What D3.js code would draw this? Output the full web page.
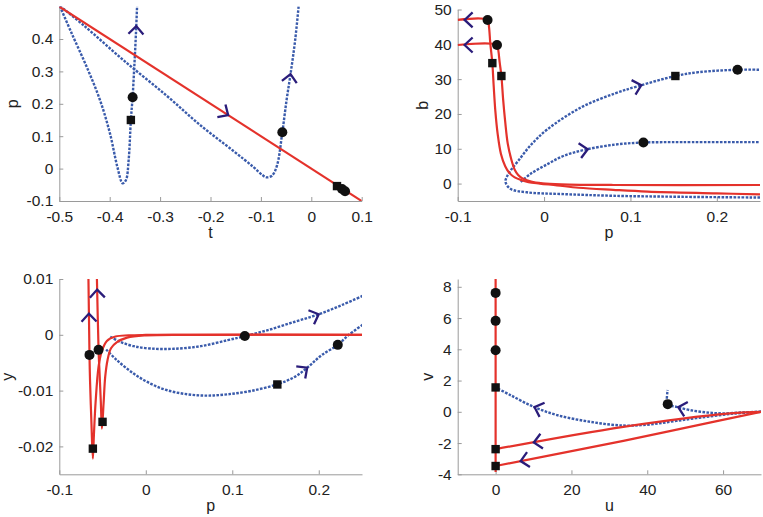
<!DOCTYPE html>
<html>
<head>
<meta charset="utf-8">
<script src="https://cdn.jsdelivr.net/npm/d3@7"></script>
<style>
  body { margin: 0; background: #fff; }
  text { font-family: "Liberation Sans", Arial, Helvetica, sans-serif; }
</style>
</head>
<body>
<svg id="chart" width="763" height="517"></svg>
<script>
// ---- panel 1: t vs p ----
var tpRed = [[-0.5, 0.5], [0.1, -0.1]];
var tpBlue1 = [[-0.499, 0.502], [-0.4755, 0.4175], [-0.4458, 0.3146], [-0.4193, 0.2117], [-0.3995, 0.1088],
  [-0.3849, 0.006], [-0.3743, -0.0455], [-0.3677, -0.0352], [-0.3624, 0.0265], [-0.358, 0.15],
  [-0.3545, 0.222], [-0.3512, 0.3146], [-0.3479, 0.4175], [-0.3452, 0.52]];
var tpBlue2 = [[-0.499, 0.502], [-0.45, 0.44], [-0.373, 0.335], [-0.287, 0.225], [-0.221, 0.135],
  [-0.155, 0.055], [-0.115, 0.005], [-0.097, -0.02], [-0.089, -0.027], [-0.078, -0.022],
  [-0.068, 0.01], [-0.0575, 0.112], [-0.049, 0.212], [-0.041, 0.294], [-0.032, 0.397], [-0.024, 0.52]];
var tpCircles = [[-0.3545, 0.22], [-0.0575, 0.112], [0.061, -0.063], [0.067, -0.07]];
var tpSquares = [[-0.358, 0.15], [0.051, -0.054]];
var tpArrows = [[-0.35, 0.44, "blue1"], [-0.042, 0.292, "blue2"], [-0.165, 0.165, "red"]];
var tpXTicks = [-0.5, -0.4, -0.3, -0.2, -0.1, 0, 0.1];
var tpYTicks = [-0.1, 0, 0.1, 0.2, 0.3, 0.4];

// ---- panel 2: p vs b ----
var pbRedA = [[0.25, -3.1], [0.2, -2.8], [0.12, -2.3], [0.08, -1.8], [0.04, -1.2], [0.015, -0.5],
  [-0.005, 0], [-0.018, 0.4], [-0.025, 0.9], [-0.034, 1.8], [-0.04, 3.0], [-0.045, 5.0], [-0.05, 8.6],
  [-0.0537, 14.2], [-0.0564, 20.8], [-0.0584, 28.3], [-0.0599, 34.6], [-0.0623, 40.4], [-0.0638, 45.1],
  [-0.0654, 47], [-0.1, 47]];
var pbRedB = [[0.25, -0.4], [0.08, -0.4], [0.02, -0.2], [-0.002, 0.1], [-0.015, 0.6], [-0.025, 1.5],
  [-0.03, 2.5], [-0.034, 4.0], [-0.038, 7.0], [-0.042, 11.4], [-0.0451, 18], [-0.0475, 24.5],
  [-0.0494, 30.9], [-0.0514, 34.8], [-0.0529, 38.1], [-0.0545, 39.8], [-0.1, 39.8]];
var pbBlueC = [[0.25, -4.0], [0.16, -3.8], [0.08, -3.5], [0.02, -3.0], [-0.02, -2.5], [-0.039, -1.5],
  [-0.0447, 0.5], [-0.043, 2.0], [-0.038, 4.0], [-0.03, 6.5], [-0.0156, 11], [0.004, 15.6],
  [0.043, 21.9], [0.082, 25.9], [0.109, 28], [0.152, 30.9], [0.179, 32], [0.224, 32.7], [0.25, 32.7]];
var pbBlueD = [[-0.027, 0.5], [-0.0156, 2.8], [0.004, 5.6], [0.023, 8.0], [0.047, 9.7], [0.082, 11.2],
  [0.115, 11.8], [0.16, 11.9], [0.25, 11.9]];
var pbCircles = [[-0.0654, 47], [-0.0545, 39.8], [0.224, 32.7], [0.115, 11.8]];
var pbSquares = [[-0.0599, 34.6], [-0.0494, 30.9], [0.152, 30.9]];
var pbArrows = [[-0.092, 47, "redA"], [-0.092, 39.8, "redB"], [0.113, 27.8, "blueC"], [0.0506, 9.8, "blueD"]];
var pbXTicks = [-0.1, 0, 0.1, 0.2];
var pbYTicks = [0, 10, 20, 30, 40, 50];

// ---- panel 3: p vs y ----
var pyRedA = [[0.25, 0], [0.05, 0], [0, -0.00003], [-0.02, -0.0001], [-0.035, -0.0003], [-0.045, -0.0011],
  [-0.051, -0.003], [-0.0546, -0.0057], [-0.058, -0.012], [-0.06, -0.018], [-0.0612, -0.0222],
  [-0.0628, -0.016], [-0.0645, -0.008], [-0.0651, -0.0036], [-0.0663, 0.01], [-0.0666, 0.012]];
var pyRedB = [[0.25, 0], [0.05, 0], [0, -0.0001], [-0.0216, -0.0005], [-0.0333, -0.0013], [-0.0402, -0.0024],
  [-0.0442, -0.0045], [-0.0469, -0.0075], [-0.0488, -0.0123], [-0.0507, -0.0168], [-0.052, -0.012],
  [-0.0537, -0.006], [-0.0546, -0.0027], [-0.0565, 0.01], [-0.0568, 0.012]];
var pyBlueE = [[-0.0411, -0.00036], [-0.0295, -0.00126], [-0.014, -0.00204], [0.0054, -0.00246],
  [0.0326, -0.00251], [0.0636, -0.00204], [0.0947, -0.00096], [0.1145, -0.00024], [0.1412, 0.00084],
  [0.1723, 0.00234], [0.1995, 0.00365], [0.2266, 0.00533], [0.253, 0.00713]];
var pyBlueF = [[-0.0458, -0.00263], [-0.0334, -0.00455], [-0.014, -0.00695], [0.0054, -0.00874],
  [0.0248, -0.00994], [0.0481, -0.01066], [0.0714, -0.0109], [0.0947, -0.01066], [0.1218, -0.01006],
  [0.1521, -0.00886], [0.1723, -0.00754], [0.1878, -0.00575], [0.2033, -0.00365], [0.222, -0.0018],
  [0.2344, -0.00006], [0.253, 0.00204]];
var pyCircles = [[-0.0651, -0.0036], [-0.0546, -0.0027], [0.1145, -0.0002], [0.222, -0.0018]];
var pySquares = [[-0.0612, -0.0204], [-0.05, -0.0156], [0.1521, -0.0089]];
var pyArrows = [[-0.0663, 0.0038, "redA"], [-0.0565, 0.0081, "redB"], [0.1996, 0.0038, "blueE"], [0.1857, -0.0057, "blueF"]];
var pyXTicks = [-0.1, 0, 0.1, 0.2];
var pyYTicks = [-0.02, -0.01, 0, 0.01];

// ---- panel 4: u vs v ----
var uvRedV = [[0, 8.5], [0, -3.85]];
var uvRed1 = [[70, 0], [61.8, -0.1], [33.7, -0.96], [0, -2.39]];
var uvRed2 = [[70, 0], [51.2, -0.96], [33.7, -1.86], [0, -3.47]];
var uvBlue1 = [[70, 0], [63.5, -0.1], [55.6, -0.32], [47.7, -0.58], [40.7, -0.81], [33.7, -0.88],
  [24.9, -0.64], [16.2, -0.21], [10, 0.32], [3.9, 1.07], [0, 1.56]];
var uvBlue2 = [[70, 0], [65.3, -0.04], [60, -0.1], [55.6, -0.04], [51.2, 0.11], [47.7, 0.32],
  [45.4, 0.49], [45.4, 1.4]];
var uvCircles = [[0, 7.61], [0, 5.82], [0, 3.94], [45.4, 0.49]];
var uvSquares = [[0, 1.56], [0, -2.39], [0, -3.47]];
var uvArrows = [[10.3, 0.32, "blue1"], [48.2, 0.32, "blue2"], [10.0, -1.86, "red1"], [6.5, -3.03, "red2"]];
var uvXTicks = [0, 20, 40, 60];
var uvYTicks = [-4, -2, 0, 2, 4, 6, 8];

var RED = "#e4322b", BLUE = "#3a5bab", NAVY = "#2a1c7a", AXIS = "#9a9a9a";

var svg = d3.select("#chart");

var panels = [
  {id: 1, left: 59.3, right: 361.7, top: 6.6, bottom: 201, xDomain: [-0.5, 0.1], yDomain: [-0.1, 0.5],
   xTicks: tpXTicks, yTicks: tpYTicks, xLabel: "t", yLabel: "p", yLabelX: 17.5,
   red: {red: tpRed}, blue: {blue1: tpBlue1, blue2: tpBlue2},
   circles: tpCircles, squares: tpSquares, arrows: tpArrows},
  {id: 2, left: 457.7, right: 760, top: 9.5, bottom: 201, xDomain: [-0.1, 0.25], yDomain: [-5, 50],
   xTicks: pbXTicks, yTicks: pbYTicks, xLabel: "p", yLabel: "b", yLabelX: 428,
   red: {redA: pbRedA, redB: pbRedB}, blue: {blueC: pbBlueC, blueD: pbBlueD},
   circles: pbCircles, squares: pbSquares, arrows: pbArrows},
  {id: 3, left: 59.3, right: 362, top: 279, bottom: 474.3, xDomain: [-0.1, 0.25], yDomain: [-0.025, 0.01],
   xTicks: pyXTicks, yTicks: pyYTicks, xLabel: "p", yLabel: "y", yLabelX: 12.5,
   red: {redA: pyRedA, redB: pyRedB}, blue: {blueE: pyBlueE, blueF: pyBlueF},
   circles: pyCircles, squares: pySquares, arrows: pyArrows},
  {id: 4, left: 457.7, right: 761, top: 279, bottom: 474.3, xDomain: [-10, 70], yDomain: [-4, 8.5],
   xTicks: uvXTicks, yTicks: uvYTicks, xLabel: "u", yLabel: "v", yLabelX: 433,
   red: {redV: uvRedV, red1: uvRed1, red2: uvRed2}, blue: {blue1: uvBlue1, blue2: uvBlue2},
   circles: uvCircles, squares: uvSquares, arrows: uvArrows}
];

function fmt(d) { return String(+d.toFixed(4)); }

panels.forEach(function(p) {
  var x = d3.scaleLinear().domain(p.xDomain).range([p.left, p.right]);
  var y = d3.scaleLinear().domain(p.yDomain).range([p.bottom, p.top]);
  var g = svg.append("g");

  svg.append("clipPath").attr("id", "clip" + p.id)
    .append("rect")
      .attr("x", p.left).attr("y", p.top)
      .attr("width", p.right - p.left).attr("height", p.bottom - p.top);

  var gx = g.append("g")
      .attr("transform", "translate(0," + p.bottom + ")")
      .call(d3.axisBottom(x).tickValues(p.xTicks).tickFormat(fmt)
        .tickSizeInner(-4).tickSizeOuter(0).tickPadding(10));
  var gy = g.append("g")
      .attr("transform", "translate(" + p.left + ",0)")
      .call(d3.axisLeft(y).tickValues(p.yTicks).tickFormat(fmt)
        .tickSizeInner(-4).tickSizeOuter(0).tickPadding(6));
  [gx, gy].forEach(function(a) {
    a.attr("font-family", null).attr("font-size", null);
    a.select(".domain").attr("stroke", AXIS);
    a.selectAll(".tick line").attr("stroke", AXIS);
    a.selectAll(".tick text").attr("fill", "#222").style("font-size", "15.5px");
  });

  g.append("text")
      .attr("x", (p.left + p.right) / 2)
      .attr("y", p.bottom + 37)
      .attr("text-anchor", "middle")
      .attr("fill", "#222")
      .style("font-size", "16px")
      .text(p.xLabel);
  g.append("text")
      .attr("transform", "translate(" + p.yLabelX + "," + ((p.top + p.bottom) / 2) + ") rotate(-90)")
      .attr("text-anchor", "middle")
      .attr("fill", "#222")
      .style("font-size", "16px")
      .text(p.yLabel);

  var line = d3.line()
      .x(function(d) { return x(d[0]); })
      .y(function(d) { return y(d[1]); })
      .curve(d3.curveCatmullRom.alpha(0.5));

  var plot = g.append("g").attr("clip-path", "url(#clip" + p.id + ")");

  Object.keys(p.blue).forEach(function(k) {
    plot.append("path")
        .datum(p.blue[k])
        .attr("fill", "none")
        .attr("stroke", BLUE)
        .attr("stroke-width", 2.4)
        .attr("stroke-dasharray", "2.6,1.4")
        .attr("d", line);
  });
  Object.keys(p.red).forEach(function(k) {
    plot.append("path")
        .datum(p.red[k])
        .attr("fill", "none")
        .attr("stroke", RED)
        .attr("stroke-width", 2.2)
        .attr("d", line);
  });

  g.selectAll(".sq" + p.id)
    .data(p.squares)
    .enter().append("rect")
      .attr("x", function(d) { return x(d[0]) - 4.2; })
      .attr("y", function(d) { return y(d[1]) - 4.2; })
      .attr("width", 8.4).attr("height", 8.4)
      .attr("fill", "#111");
  g.selectAll(".ci" + p.id)
    .data(p.circles)
    .enter().append("circle")
      .attr("cx", function(d) { return x(d[0]); })
      .attr("cy", function(d) { return y(d[1]); })
      .attr("r", 5)
      .attr("fill", "#111");

  // arrow heads: snap to curve, point along the curve's point order
  var curves = Object.assign({}, p.red, p.blue);
  p.arrows.forEach(function(a) {
    var P = [x(a[0]), y(a[1])], c = curves[a[2]], best = null;
    for (var i = 0; i < c.length - 1; i++) {
      var A = [x(c[i][0]), y(c[i][1])], B = [x(c[i + 1][0]), y(c[i + 1][1])];
      var dx = B[0] - A[0], dy = B[1] - A[1], L = dx * dx + dy * dy;
      var t = L ? Math.max(0, Math.min(1, ((P[0] - A[0]) * dx + (P[1] - A[1]) * dy) / L)) : 0;
      var q = [A[0] + t * dx, A[1] + t * dy];
      var dist = Math.hypot(P[0] - q[0], P[1] - q[1]);
      if (!best || dist < best.dist) best = {dist: dist, q: q, ang: Math.atan2(dy, dx) * 180 / Math.PI};
    }
    g.append("path")
        .attr("d", "M-8,-7.5L0,0L-8,7.5")
        .attr("transform", "translate(" + best.q[0] + "," + best.q[1] + ") rotate(" + best.ang + ")")
        .attr("fill", "none")
        .attr("stroke", NAVY)
        .attr("stroke-width", 2.3);
  });
});
</script>
</body>
</html>
